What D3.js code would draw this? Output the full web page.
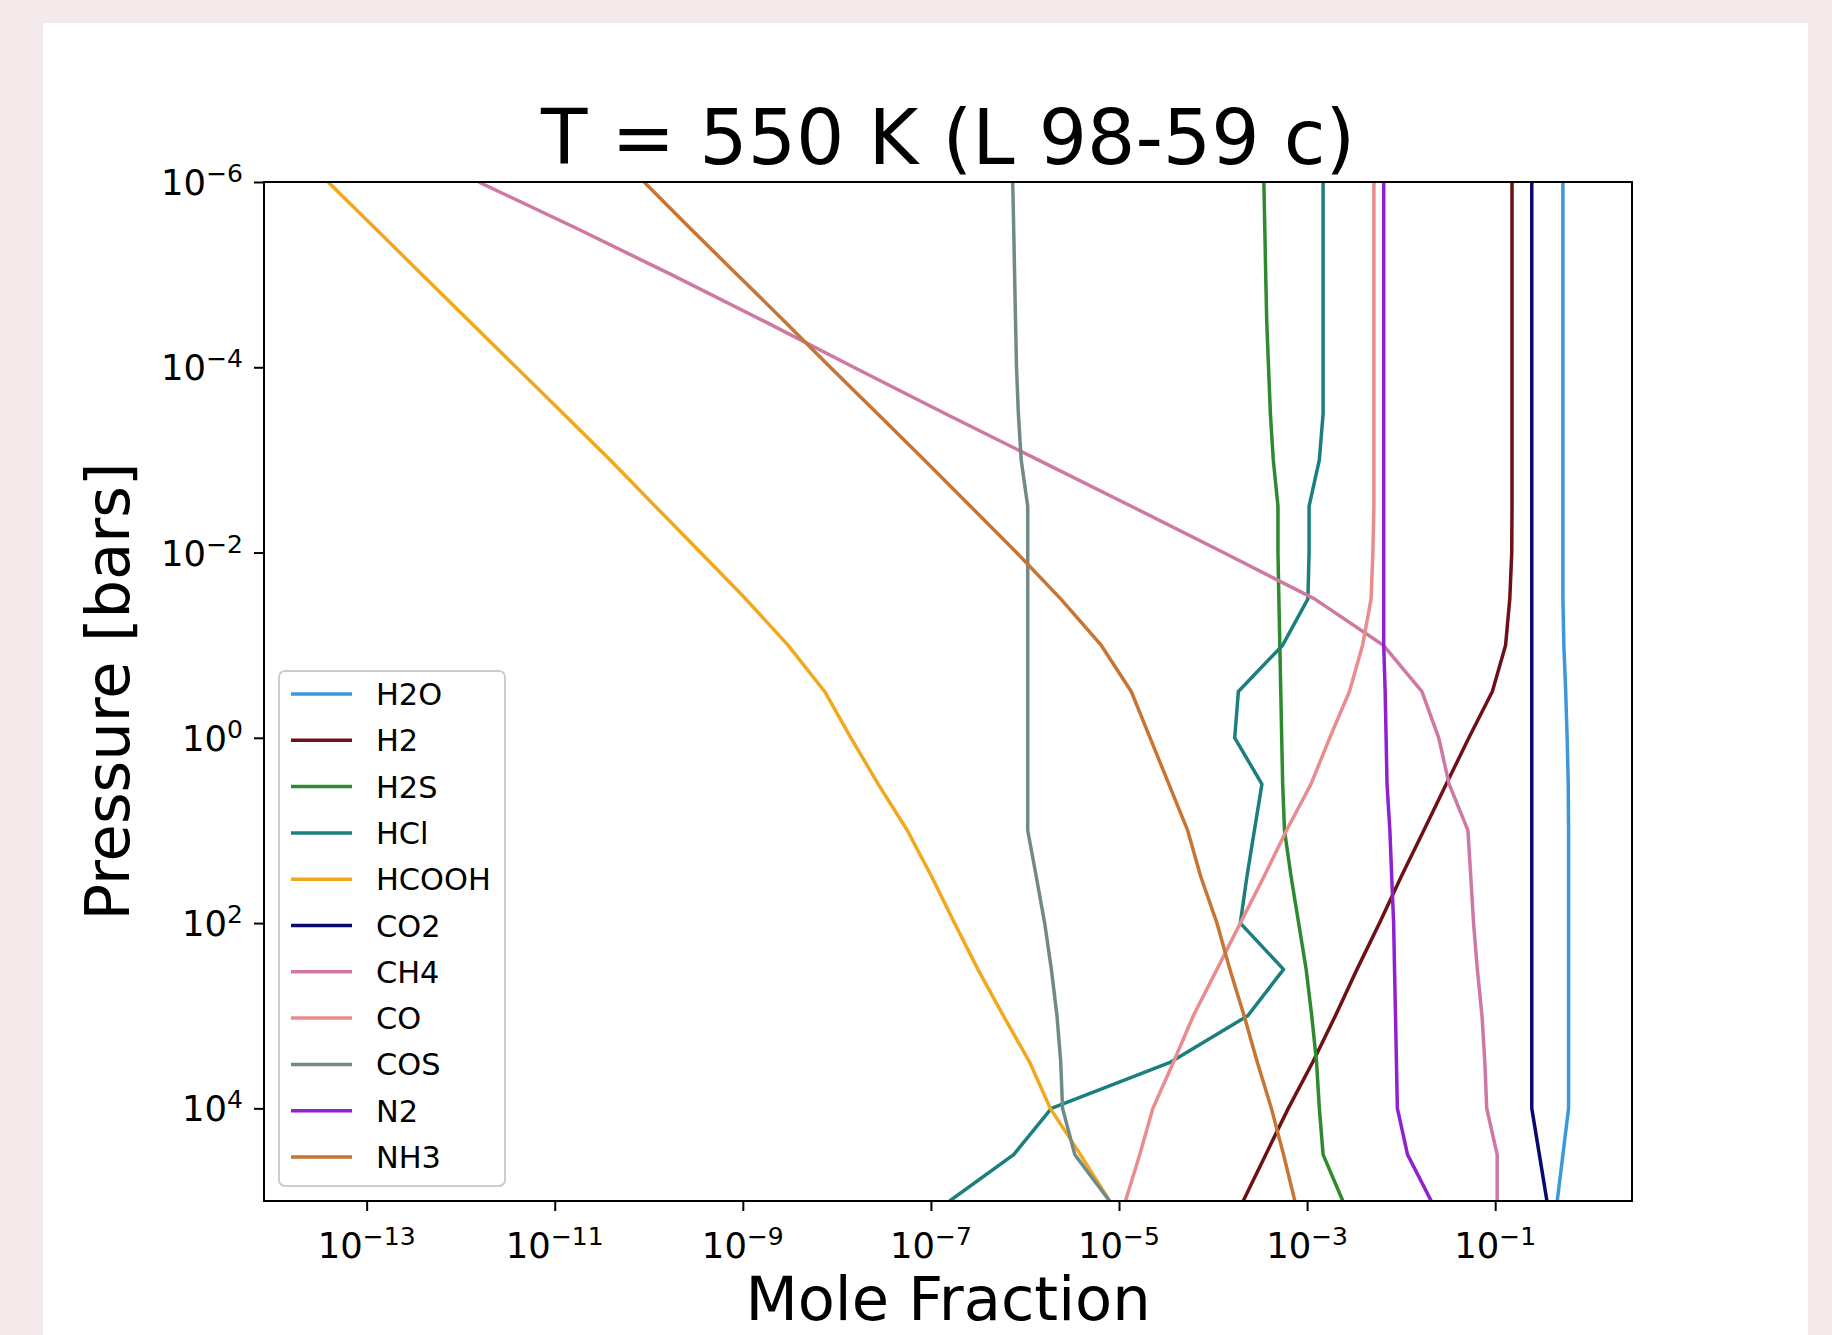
<!DOCTYPE html>
<html>
<head>
<meta charset="utf-8">
<script src="https://cdn.jsdelivr.net/npm/d3@7"></script>
<style>
  html, body { margin: 0; padding: 0; background: #f4eaeb; }
  svg { display: block; }
  text { font-family: "DejaVu Sans", sans-serif; fill: #000; }
</style>
</head>
<body>
<div id="chart"></div>
<script>
// Pressure levels [bars], shared by every profile
const pressure = [1e-6, 3.16e-6, 1e-5, 3.16e-5, 1e-4, 3.16e-4, 1e-3, 3.16e-3, 1e-2, 3.16e-2,
  0.1, 0.316, 1, 3.16, 10, 31.6, 100, 316, 1e3, 3.16e3, 1e4, 3.16e4, 1e5];

// Mole fraction profiles
const h2o = [0.525, 0.525, 0.525, 0.525, 0.525, 0.525, 0.525, 0.525, 0.525, 0.525,
  0.537, 0.562, 0.582, 0.598, 0.603, 0.603, 0.603, 0.603, 0.603, 0.603, 0.603, 0.525, 0.457];
const h2 = [0.151, 0.151, 0.151, 0.151, 0.151, 0.151, 0.151, 0.151, 0.150, 0.143,
  0.129, 0.0933, 0.0525, 0.0302, 0.0174, 0.01, 5.89e-3, 3.39e-3, 2.0e-3, 1.15e-3, 6.31e-4, 3.63e-4, 2.09e-4];
const h2s = [3.47e-4, 3.55e-4, 3.63e-4, 3.72e-4, 3.89e-4, 4.07e-4, 4.37e-4, 4.9e-4, 4.9e-4, 5.01e-4,
  5.13e-4, 5.25e-4, 5.37e-4, 5.5e-4, 5.75e-4, 6.76e-4, 8.13e-4, 9.77e-4, 1.12e-3, 1.26e-3, 1.35e-3, 1.48e-3, 2.4e-3];
const hcl = [1.48e-3, 1.48e-3, 1.48e-3, 1.48e-3, 1.48e-3, 1.48e-3, 1.35e-3, 1.05e-3, 1.05e-3, 1.02e-3,
  5.5e-4, 1.86e-4, 1.7e-4, 3.31e-4, 2.75e-4, 2.29e-4, 1.95e-4, 5.62e-4, 2.34e-4, 3.55e-5, 1.91e-6, 7.59e-7, 1.58e-7];
const hcooh = [3.89e-14, 1.23e-13, 3.89e-13, 1.23e-12, 3.89e-12, 1.23e-11, 3.89e-11, 1.17e-10, 3.55e-10, 1.07e-9,
  3.02e-9, 7.41e-9, 1.41e-8, 2.75e-8, 5.62e-8, 1.02e-7, 1.78e-7, 3.16e-7, 5.89e-7, 1.12e-6, 1.86e-6, 3.89e-6, 7.94e-6];
const co2 = [0.245, 0.245, 0.245, 0.245, 0.245, 0.245, 0.245, 0.245, 0.245, 0.245,
  0.245, 0.245, 0.245, 0.245, 0.245, 0.245, 0.245, 0.245, 0.245, 0.245, 0.245, 0.295, 0.355];
const ch4 = [1.55e-12, 1.70e-11, 1.74e-10, 1.66e-9, 1.51e-8, 1.41e-7, 1.38e-6, 1.35e-5, 1.29e-4, 1.2e-3,
  6.46e-3, 0.0166, 0.0251, 0.0324, 0.0513, 0.055, 0.0589, 0.0646, 0.0724, 0.0776, 0.0813, 0.105, 0.105];
const co = [5.13e-3, 5.13e-3, 5.13e-3, 5.13e-3, 5.13e-3, 5.13e-3, 5.13e-3, 5.13e-3, 5.01e-3, 4.79e-3,
  3.89e-3, 2.82e-3, 1.74e-3, 1.1e-3, 6.03e-4, 3.47e-4, 1.95e-4, 1.1e-4, 6.17e-5, 3.8e-5, 2.29e-5, 1.66e-5, 1.17e-5];
const cos = [7.41e-7, 7.59e-7, 7.76e-7, 7.94e-7, 8.13e-7, 8.51e-7, 9.12e-7, 1.07e-6, 1.07e-6, 1.07e-6,
  1.07e-6, 1.07e-6, 1.07e-6, 1.07e-6, 1.07e-6, 1.32e-6, 1.62e-6, 1.91e-6, 2.19e-6, 2.4e-6, 2.51e-6, 3.39e-6, 7.94e-6];
const n2 = [6.53e-3, 6.53e-3, 6.53e-3, 6.53e-3, 6.53e-3, 6.53e-3, 6.53e-3, 6.53e-3, 6.53e-3, 6.53e-3,
  6.53e-3, 6.76e-3, 6.92e-3, 7.08e-3, 7.59e-3, 7.94e-3, 8.32e-3, 8.51e-3, 8.71e-3, 8.91e-3, 9.12e-3, 0.0117, 0.0209];
const nh3 = [8.91e-11, 2.75e-10, 8.71e-10, 2.75e-9, 8.51e-9, 2.69e-8, 8.51e-8, 2.63e-7, 8.13e-7, 2.4e-6,
  6.46e-6, 1.35e-5, 2.14e-5, 3.39e-5, 5.37e-5, 7.41e-5, 1.1e-4, 1.51e-4, 2.14e-4, 2.95e-4, 4.17e-4, 5.62e-4, 7.41e-4];

const species = ["H2O", "H2", "H2S", "HCl", "HCOOH", "CO2", "CH4", "CO", "COS", "N2", "NH3"];
const profiles = [h2o, h2, h2s, hcl, hcooh, co2, ch4, co, cos, n2, nh3];
const colors = ["#3d97dc", "#6e1016", "#2f8a2f", "#1b7f7d", "#f2a81d", "#0a0a6e",
  "#cf78a3", "#e98c90", "#708a88", "#9020d0", "#c87533"];

const xTicks = [1e-13, 1e-11, 1e-9, 1e-7, 1e-5, 1e-3, 1e-1];
const yTicks = [1e-6, 1e-4, 1e-2, 1e0, 1e2, 1e4];
const xLimits = [8.1e-15, 2.85];
const yLimits = [1e-6, 1e5];

const W = 1832, H = 1335;
const plot = { left: 264, right: 1632, top: 182, bottom: 1201 };

const svg = d3.select("#chart").append("svg")
  .attr("width", W)
  .attr("height", H);

// white figure card on the pink page
svg.append("rect")
  .attr("x", 43).attr("y", 23)
  .attr("width", 1808 - 43).attr("height", H - 23)
  .attr("fill", "#fff");

const x = d3.scaleLog().domain(xLimits).range([plot.left, plot.right]);
const y = d3.scaleLog().domain(yLimits).range([plot.top, plot.bottom]);

svg.append("clipPath").attr("id", "clip")
  .append("rect")
  .attr("x", plot.left).attr("y", plot.top)
  .attr("width", plot.right - plot.left).attr("height", plot.bottom - plot.top);

const line = d3.line()
  .x(d => x(d[0]))
  .y(d => y(d[1]));

svg.append("g").attr("clip-path", "url(#clip)")
  .selectAll("path")
  .data(profiles)
  .enter()
  .append("path")
  .attr("fill", "none")
  .attr("stroke", (d, i) => colors[i])
  .attr("stroke-width", 3.5)
  .attr("stroke-linejoin", "round")
  .attr("d", d => line(d.map((v, j) => [v, pressure[j]])));

// axes (ticks only, labels drawn with superscripts below)
const xAxis = svg.append("g")
  .attr("transform", `translate(0,${plot.bottom})`)
  .call(d3.axisBottom(x).tickValues(xTicks).tickFormat("").tickSize(10).tickSizeOuter(0));
const yAxis = svg.append("g")
  .attr("transform", `translate(${plot.left},0)`)
  .call(d3.axisLeft(y).tickValues(yTicks).tickFormat("").tickSize(10).tickSizeOuter(0));
[xAxis, yAxis].forEach(g => {
  g.select(".domain").remove();
  g.selectAll(".tick line").attr("stroke", "#000").attr("stroke-width", 2);
});

const expo = d => {
  const e = Math.round(Math.log10(d));
  return e < 0 ? "\u2212" + Math.abs(e) : String(e);
};

function powerLabel(sel) {
  sel.append("tspan").text("10");
  sel.append("tspan")
    .attr("dy", -13)
    .attr("font-size", 25)
    .text(d => expo(d));
}

svg.append("g").selectAll("text")
  .data(xTicks)
  .enter()
  .append("text")
  .attr("x", d => x(d))
  .attr("y", 1258)
  .attr("text-anchor", "middle")
  .attr("font-size", 35.4)
  .call(powerLabel);

svg.append("g").selectAll("text")
  .data(yTicks)
  .enter()
  .append("text")
  .attr("x", 243)
  .attr("y", d => y(d) + 13)
  .attr("text-anchor", "end")
  .attr("font-size", 35.4)
  .call(powerLabel);

// frame
svg.append("rect")
  .attr("x", plot.left).attr("y", plot.top)
  .attr("width", plot.right - plot.left).attr("height", plot.bottom - plot.top)
  .attr("fill", "none")
  .attr("stroke", "#000")
  .attr("stroke-width", 2);

// title and axis labels
svg.append("text")
  .attr("x", (plot.left + plot.right) / 2)
  .attr("y", 164)
  .attr("text-anchor", "middle")
  .attr("font-size", 76)
  .text("T = 550 K (L 98-59 c)");

svg.append("text")
  .attr("x", (plot.left + plot.right) / 2)
  .attr("y", 1320)
  .attr("text-anchor", "middle")
  .attr("font-size", 60.7)
  .text("Mole Fraction");

svg.append("text")
  .attr("transform", `translate(129,${(plot.top + plot.bottom) / 2}) rotate(-90)`)
  .attr("text-anchor", "middle")
  .attr("font-size", 60.7)
  .text("Pressure [bars]");

// legend
const leg = { x: 279, y: 671, w: 226, h: 515, row: 46.3, first: 694 };
const legend = svg.append("g");
legend.append("rect")
  .attr("x", leg.x).attr("y", leg.y)
  .attr("width", leg.w).attr("height", leg.h)
  .attr("rx", 6)
  .attr("fill", "#fff").attr("fill-opacity", 0.8)
  .attr("stroke", "#cccccc").attr("stroke-width", 2);

const items = legend.selectAll("g.item")
  .data(species)
  .enter()
  .append("g")
  .attr("class", "item")
  .attr("transform", (d, i) => `translate(0,${leg.first + i * leg.row})`);

items.append("line")
  .attr("x1", 291).attr("x2", 352)
  .attr("y1", 0).attr("y2", 0)
  .attr("stroke", (d, i) => colors[i])
  .attr("stroke-width", 3.5);

items.append("text")
  .attr("x", 376)
  .attr("y", 11)
  .attr("font-size", 30.4)
  .text(d => d);
</script>
</body>
</html>
